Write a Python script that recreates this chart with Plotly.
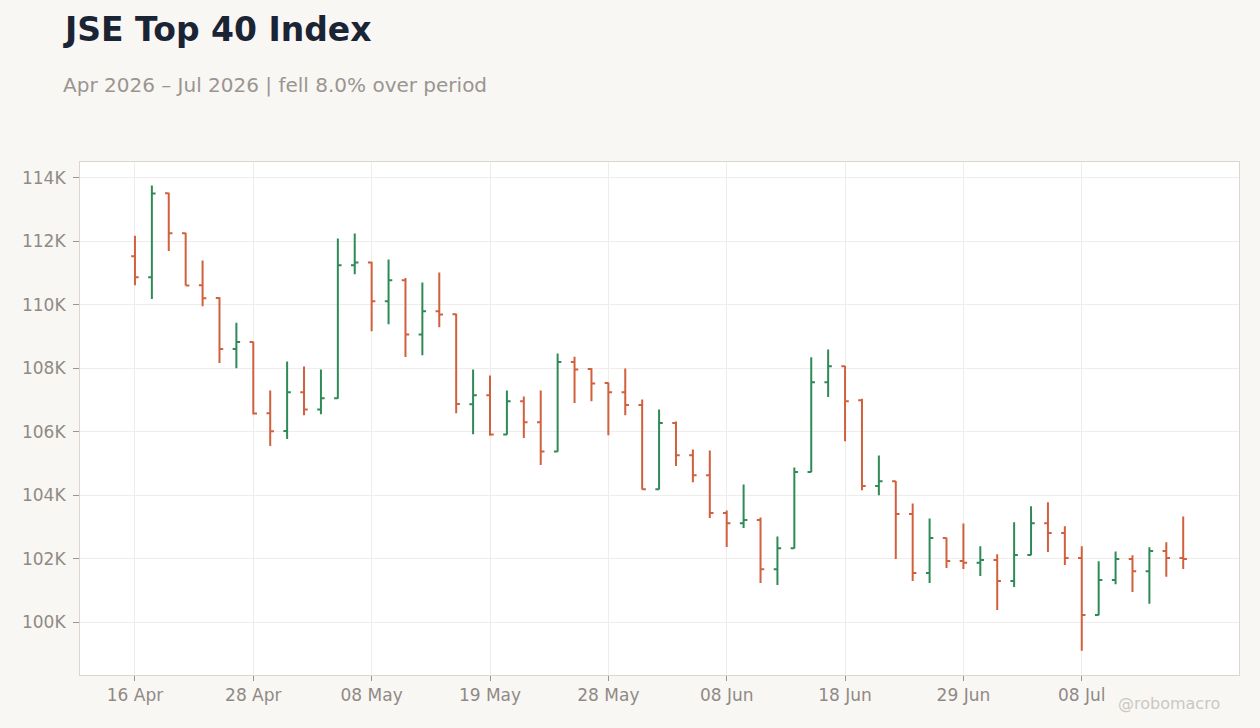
'''
ohlc chart for the jse top 40 index
'''
import plotly.graph_objects as go

# trading days (weekends and sa public holidays skipped)
dates = [
    '16 Apr', '17 Apr', '20 Apr', '21 Apr', '22 Apr', '23 Apr', '24 Apr', '28 Apr', '29 Apr', '30 Apr',
    '04 May', '05 May', '06 May', '07 May', '08 May', '11 May', '12 May', '13 May', '14 May', '15 May',
    '18 May', '19 May', '20 May', '21 May', '22 May', '25 May', '26 May', '27 May', '28 May', '29 May',
    '01 Jun', '02 Jun', '03 Jun', '04 Jun', '05 Jun', '08 Jun', '09 Jun', '10 Jun', '11 Jun', '12 Jun',
    '15 Jun', '17 Jun', '18 Jun', '19 Jun', '22 Jun', '23 Jun', '24 Jun', '25 Jun', '26 Jun', '29 Jun',
    '30 Jun', '01 Jul', '02 Jul', '03 Jul', '06 Jul', '07 Jul', '08 Jul', '09 Jul', '10 Jul', '13 Jul',
    '14 Jul', '15 Jul', '16 Jul',
]
open_values = [
    111520, 110860, 113510, 112250, 110610, 110210, 108600, 108820, 106580, 106020,
    107245, 106700, 107050, 111240, 111330, 110110, 110770, 109060, 109790, 109700,
    106860, 107150, 105910, 106960, 106300, 105380, 108190, 107970, 107530, 107245,
    106840, 104185, 106270, 105260, 104630, 103440, 103120, 103220, 101670, 102330,
    104730, 107560, 108060, 106990, 104290, 104440, 103410, 101550, 102650, 101930,
    101870, 101960, 101300, 102120, 103120, 102810, 102020, 100230, 101330, 101990,
    101610, 102240, 102020,
]
high_values = [
    112170, 113750, 113520, 112260, 111390, 110230, 109430, 108830, 107300, 108210,
    108050, 107960, 112080, 112240, 111350, 111420, 110840, 110700, 111010, 109710,
    107960, 107770, 107300, 107110, 107300, 108460, 108360, 108000, 107550, 107990,
    107015, 106700, 106320, 105440, 105410, 103520, 104340, 103300, 102700, 104870,
    108340, 108590, 108070, 107040, 105250, 104450, 103740, 103270, 102660, 103110,
    102390, 102140, 103150, 103650, 103780, 103020, 102390, 101920, 102230, 102110,
    102360, 102520, 103330,
]
low_values = [
    110610, 110180, 111690, 110600, 109950, 108160, 108000, 106540, 105550, 105770,
    106520, 106550, 107040, 110960, 109160, 109380, 108350, 108410, 109290, 106580,
    105920, 105870, 105900, 105800, 104950, 105370, 106900, 106960, 105890, 106520,
    104180, 104180, 104920, 104410, 103280, 102370, 102970, 101240, 101170, 102320,
    104720, 107090, 105700, 104160, 104000, 101990, 101300, 101240, 101710, 101680,
    101460, 100390, 101110, 102110, 102210, 101800, 99100, 100220, 101200, 100950,
    100580, 101430, 101680,
]
close_values = [
    110860, 113500, 112250, 110600, 110200, 108600, 108820, 106570, 106010, 107240,
    106700, 107050, 111240, 111330, 110110, 110770, 109060, 109790, 109690, 106870,
    107150, 105910, 106960, 106300, 105380, 108190, 107960, 107520, 107245, 106840,
    104185, 106270, 105260, 104630, 103440, 103120, 103220, 101670, 102330, 104730,
    107560, 108060, 106960, 104290, 104440, 103410, 101550, 102650, 101930, 101870,
    101960, 101300, 102120, 103120, 102810, 102020, 100230, 101330, 101990, 101610,
    102240, 102020, 101990,
]
y_tick_values = [100000, 102000, 104000, 106000, 108000, 110000, 112000, 114000]
y_tick_labels = ['100K', '102K', '104K', '106K', '108K', '110K', '112K', '114K']

GREEN = '#2e8b57'
RED = '#d1603d'
FONT = 'DejaVu Sans'

figure = go.Figure()
figure.add_trace(go.Ohlc(
    x=dates, open=open_values, high=high_values, low=low_values, close=close_values,
    increasing=dict(line=dict(color=GREEN, width=2)),
    decreasing=dict(line=dict(color=RED, width=2)),
    tickwidth=0.22,
    showlegend=False,
))

#titles and watermark as annotations
figure.add_annotation(
    text='<b>JSE Top 40 Index</b>', xref='paper', yref='paper', x=-0.0168, y=1.259,
    xanchor='left', yanchor='middle', showarrow=False,
    font=dict(family=FONT, size=33, color='#1b2435'),
)
figure.add_annotation(
    text='Apr 2026 – Jul 2026 | fell 8.0% over period', xref='paper', yref='paper',
    x=-0.0168, y=1.150, xanchor='left', yanchor='middle', showarrow=False,
    font=dict(family=FONT, size=20, color='#9a9590'),
)
figure.add_annotation(
    text='@robomacro', xref='paper', yref='paper', x=0.985, y=-0.055,
    xanchor='right', yanchor='middle', showarrow=False,
    font=dict(family=FONT, size=16, color='#cbc7c2'),
)

figure.update_layout(
    width=1260, height=728,
    margin=dict(l=80, r=21, t=162, b=53),
    paper_bgcolor='#f9f7f4',
    plot_bgcolor='#ffffff',
    font=dict(family=FONT, size=17, color='#8f8a85'),
)
figure.update_xaxes(
    type='category',
    range=[-3.25, 65.3],
    tickvals=dates[::7],
    showgrid=True, gridcolor='#efedeb', gridwidth=1,
    showline=True, linecolor='#dcd6cf', linewidth=1, mirror=True,
    ticks='outside', ticklen=5, tickcolor='#9a9590',
    rangeslider=dict(visible=False),
)
figure.update_yaxes(
    range=[98340, 114490],
    tickvals=y_tick_values, ticktext=y_tick_labels,
    showgrid=True, gridcolor='#efedeb', gridwidth=1,
    showline=True, linecolor='#dcd6cf', linewidth=1, mirror=True,
    ticks='outside', ticklen=6, tickcolor='#9a9590',
    ticklabelstandoff=4,
    zeroline=False,
)
#drop the default page margin so the figure fills the window
figure.write_html(
    'out.html',
    config={'displayModeBar': False},
    post_script="document.body.style.margin='0';",
)
